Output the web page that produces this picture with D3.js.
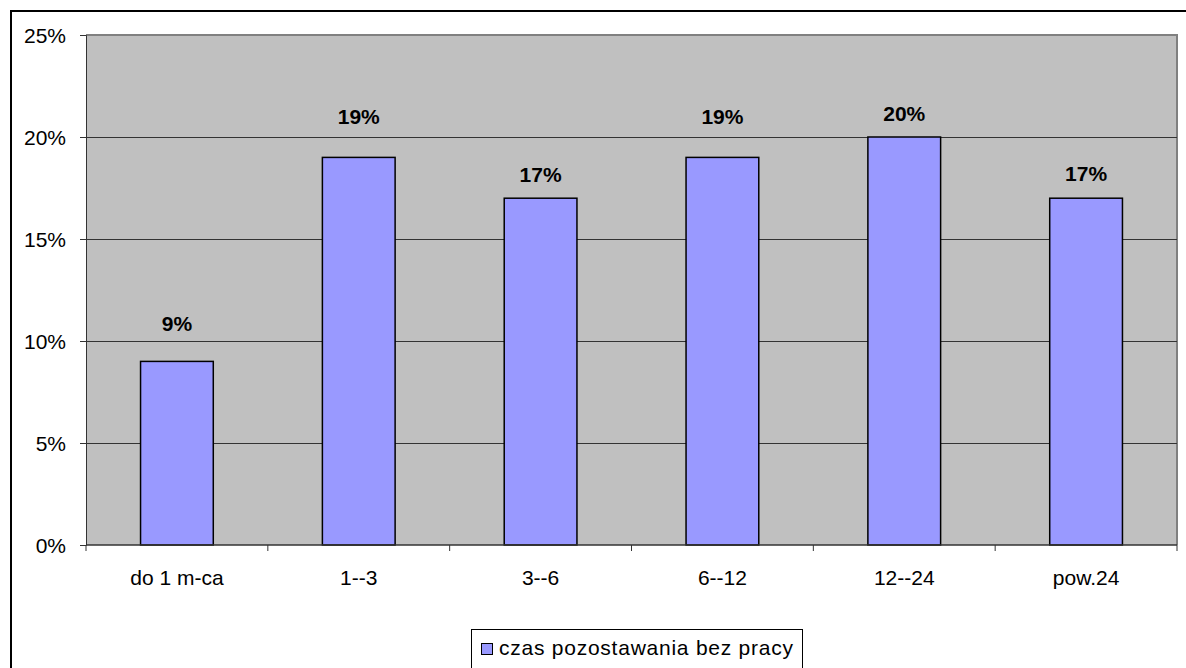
<!DOCTYPE html>
<html><head><meta charset="utf-8">
<script src="https://cdn.jsdelivr.net/npm/d3@7/dist/d3.min.js"></script>
<style>
html,body{margin:0;padding:0;background:#fff;overflow:hidden}
text{font-family:Arial,"Liberation Sans",sans-serif;fill:#000}
</style></head>
<body><svg id="c" width="1186" height="668"></svg>
<script>
const categories = ["do 1 m-ca", "1--3", "3--6", "6--12", "12--24", "pow.24"];
const values = [9, 19, 17, 19, 20, 17];
const valueLabels = ["9%", "19%", "17%", "19%", "20%", "17%"];
const yTicks = [0, 5, 10, 15, 20, 25];
const seriesName = "czas pozostawania bez pracy";
// layout: distance (px) between bar top and value label baseline
const labelGap = [30, 33, 16, 33, 16, 17];

const svg = d3.select("#c");
const L = 86, R = 1177, T = 35, B = 545;

// outer chart border
svg.append("rect").attr("x", 11).attr("y", 11).attr("width", 1200).attr("height", 700)
  .attr("fill", "#fff").attr("stroke", "#000").attr("stroke-width", 2);

const x = d3.scaleBand().domain(categories).range([L, R]).padding(0);
const y = d3.scaleLinear().domain([0, 25]).range([B, T]);

// plot area
svg.append("rect").attr("x", L).attr("y", T).attr("width", R - L).attr("height", B - T)
  .attr("fill", "#C0C0C0");
svg.append("path").attr("d", `M${L},${T}H${R}V${B}`).attr("fill", "none")
  .attr("stroke", "#808080").attr("stroke-width", 2);

// gridlines
svg.append("g").selectAll("line").data(yTicks.filter(d => d > 0 && d < 25)).join("line")
  .attr("x1", L).attr("x2", R).attr("y1", d => Math.round(y(d)) + 0.5).attr("y2", d => Math.round(y(d)) + 0.5)
  .attr("stroke", "#333").attr("stroke-width", 1);

// y axis
const yAxis = d3.axisLeft(y).tickValues(yTicks).tickFormat(d => d + "%").tickSize(6).tickPadding(14);
const gy = svg.append("g").attr("transform", `translate(${L},0)`).call(yAxis);
gy.select(".domain").attr("stroke", "#333");
gy.selectAll(".tick line").attr("stroke", "#333");
gy.selectAll("text").style("font-size", "21px").attr("dy", "0.34em");

// bars
svg.append("g").selectAll("rect").data(values).join("rect")
  .attr("x", (d, i) => x(categories[i]) + x.bandwidth() * 0.3)
  .attr("width", x.bandwidth() * 0.4)
  .attr("y", d => y(d))
  .attr("height", d => B - y(d))
  .attr("fill", "#9999FF").attr("stroke", "#000").attr("stroke-width", 1.5);

// x axis
const gx = svg.append("g").attr("transform", `translate(0,${B})`);
gx.append("line").attr("x1", L).attr("x2", R).attr("y1", 0).attr("y2", 0).attr("stroke", "#333").attr("stroke-width", 1.5);
const bounds = categories.map(c => x(c)).concat([R]);
gx.selectAll("line.t").data(bounds).join("line").attr("class", "t")
  .attr("x1", d => d).attr("x2", d => d).attr("y1", 0).attr("y2", 6).attr("stroke", "#333");
gx.selectAll("text").data(categories).join("text")
  .attr("x", d => x(d) + x.bandwidth() / 2).attr("y", 40)
  .attr("text-anchor", "middle").style("font-size", "21px").text(d => d);

// value labels
svg.append("g").selectAll("text").data(values).join("text")
  .attr("x", (d, i) => x(categories[i]) + x.bandwidth() / 2)
  .attr("y", (d, i) => y(d) - labelGap[i])
  .attr("text-anchor", "middle").style("font-size", "21px").style("font-weight", "bold")
  .text((d, i) => valueLabels[i]);

// legend
const lg = svg.append("g");
lg.append("rect").attr("x", 471.5).attr("y", 629.5).attr("width", 331).attr("height", 60)
  .attr("fill", "#fff").attr("stroke", "#000").attr("stroke-width", 1);
lg.append("rect").attr("x", 481.5).attr("y", 643.5).attr("width", 11).attr("height", 11)
  .attr("fill", "#9999FF").attr("stroke", "#000").attr("stroke-width", 1);
lg.append("text").attr("x", 499).attr("y", 655).style("font-size", "21px")
  .attr("textLength", 294).attr("lengthAdjust", "spacing").text(seriesName);
</script></body></html>
